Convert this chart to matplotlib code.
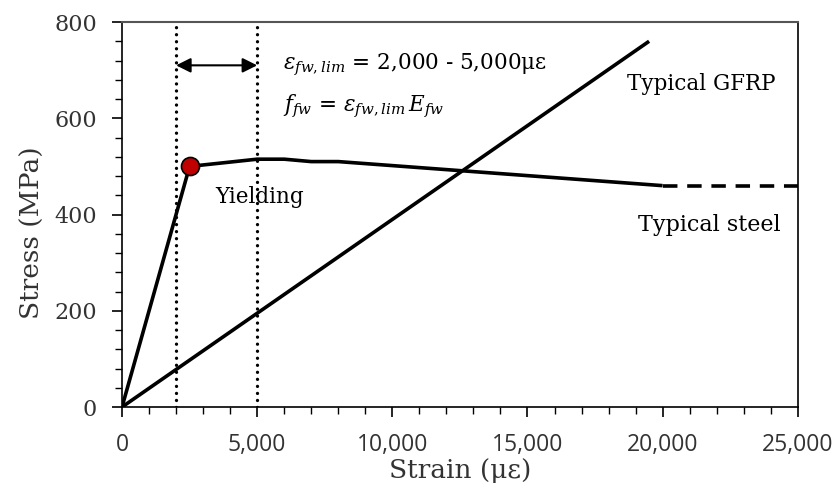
import matplotlib.pyplot as plt
from matplotlib.ticker import MultipleLocator, FuncFormatter

# stress-strain curves (strain in microstrain, stress in MPa)
steel_strain = [0, 2500, 5000, 6000, 7000, 8000, 20000]
steel_stress = [0, 500, 515, 515, 510, 510, 460]
steel_ext_strain = [20000, 25000]
steel_ext_stress = [460, 460]
gfrp_strain = [0, 19500]
gfrp_stress = [0, 760]
yield_point = (2500, 500)
limits = [2000, 5000]

serif = ['DejaVu Serif']
sans = ['Open Sans', 'DejaVu Sans']
plt.rcParams['mathtext.fontset'] = 'dejavuserif'

fig = plt.figure(figsize=(8.38, 4.97), dpi=100)
ax = fig.add_axes([0.1456, 0.181, 0.8064, 0.7747])

ax.plot(steel_strain, steel_stress, color='black', lw=2.6, solid_capstyle='butt')
ax.plot(steel_ext_strain, steel_ext_stress, color='black', lw=2.6, ls=(0, (4, 2.7)))
ax.plot(gfrp_strain, gfrp_stress, color='black', lw=2.6, solid_capstyle='butt')
for x in limits:
    ax.plot([x, x], [0, 800], color='black', lw=2.4, ls=(0, (0.01, 2.1)),
            dash_capstyle='round')
ax.plot(*yield_point, 'o', ms=13, mfc='#c00000', mec='black', mew=1.2, zorder=5)

ax.annotate('', xy=(limits[0], 710), xytext=(limits[1], 710),
            arrowprops=dict(arrowstyle='<|-|>', color='black', lw=1.5,
                            mutation_scale=22, shrinkA=0, shrinkB=0))

ax.text(5950, 710, r'$\varepsilon_{fw,lim}$ = 2,000 - 5,000με', fontsize=15.5,
        family=serif, va='center', ha='left')
ax.text(5950, 625, r'$f_{fw}$ = $\varepsilon_{fw,lim}\,E_{fw}$', fontsize=15.5,
        family=serif, va='center', ha='left')
ax.text(3450, 436, 'Yielding', fontsize=15.5, family=serif, va='center')
ax.text(18700, 672, 'Typical GFRP', fontsize=15.5, family=serif, va='center')
ax.text(19100, 378, 'Typical steel', fontsize=16, family=serif, va='center')

ax.set_xlim(0, 25000)
ax.set_ylim(0, 800)
ax.xaxis.set_major_locator(MultipleLocator(5000))
ax.xaxis.set_minor_locator(MultipleLocator(1000))
ax.yaxis.set_major_locator(MultipleLocator(200))
ax.yaxis.set_minor_locator(MultipleLocator(40))
ax.xaxis.set_major_formatter(FuncFormatter(lambda v, p: f'{int(v):,}'))
ax.tick_params(which='major', direction='out', length=7, width=1.2, colors='black')
ax.tick_params(which='minor', direction='out', length=5, width=1.0)
ax.tick_params(axis='x', pad=12)
ax.tick_params(axis='y', pad=11)
for lab in ax.get_xticklabels():
    lab.set_family(sans)
    lab.set_fontsize(16.5)
    lab.set_color('#333333')
for lab in ax.get_yticklabels():
    lab.set_family(serif)
    lab.set_fontsize(16)
    lab.set_color('#333333')

ax.set_xlabel('Strain (με)', fontsize=19, family=serif, color='#333333')
ax.set_ylabel('Stress (MPa)', fontsize=19, family=serif, color='#333333')
ax.xaxis.set_label_coords(0.5, -0.132)
ax.yaxis.set_label_coords(-0.114, 0.452)

for side in ['left', 'bottom', 'right']:
    ax.spines[side].set_linewidth(1.2)
ax.spines['top'].set_color('#555555')
ax.spines['top'].set_linewidth(1.5)

fig.savefig('out.png', dpi=100)
